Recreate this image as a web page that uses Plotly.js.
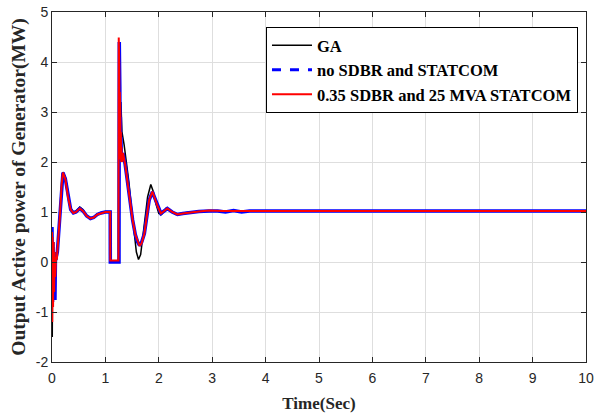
<!DOCTYPE html>
<html>
<head>
<meta charset="utf-8">
<script src="https://cdn.plot.ly/plotly-3.0.1.min.js"></script>
<style>html,body{margin:0;padding:0;background:#fff;}#chart{width:595px;height:418px;}</style>
</head>
<body>
<div id="chart"></div>
<script>
// Series names
const seriesNames = ["GA", "no SDBR and STATCOM", "0.35 SDBR and 25 MVA STATCOM"];

// GA (black)
const tGA = [0, 0.005, 0.012, 0.02, 0.03, 0.04, 0.05, 0.06, 0.075, 0.09,
  0.12, 0.15, 0.18, 0.205, 0.25, 0.30, 0.35, 0.40, 0.45, 0.52,
  0.58, 0.65, 0.72, 0.78, 0.85, 0.92, 1.0, 1.09, 1.092, 1.245,
  1.25, 1.26, 1.27, 1.28, 1.29, 1.31, 1.35, 1.39, 1.44, 1.48,
  1.54, 1.58, 1.62, 1.66, 1.70, 1.75, 1.79, 1.85, 1.90, 1.95,
  2.0, 2.05, 2.14, 2.22, 2.32, 2.45, 2.6, 2.8, 3.0, 3.3,
  3.7, 4.5, 6, 8, 10];
const pGA = [0.3, -1.5, 0.4, -0.8, 0.3, -0.5, 0.15, -0.2, 0.05, 0.05,
  0.45, 0.9, 1.5, 1.8, 1.7, 1.35, 1.08, 1.0, 1.02, 1.1,
  1.05, 0.93, 0.88, 0.9, 0.96, 0.99, 1.01, 1.01, 0.02, 0.02,
  4.3, 3.0, 3.8, 2.8, 3.2, 2.6, 2.35, 2.04, 1.6, 1.17,
  0.51, 0.2, 0.05, 0.15, 0.5, 1.0, 1.3, 1.55, 1.4, 1.15,
  0.97, 0.95, 1.08, 1.03, 0.95, 0.98, 1.0, 1.01, 1.02, 1.02,
  1.02, 1.02, 1.02, 1.02, 1.02];

// no SDBR and STATCOM (blue)
const tNo = [0, 0.004, 0.01, 0.018, 0.028, 0.038, 0.048, 0.055, 0.065, 0.08,
  0.1, 0.12, 0.15, 0.18, 0.205, 0.25, 0.30, 0.35, 0.40, 0.45,
  0.52, 0.58, 0.65, 0.72, 0.78, 0.85, 0.92, 1.0, 1.09, 1.092,
  1.255, 1.26, 1.265, 1.27, 1.275, 1.28, 1.285, 1.29, 1.30, 1.31,
  1.33, 1.37, 1.42, 1.47, 1.51, 1.56, 1.60, 1.64, 1.68, 1.73,
  1.78, 1.82, 1.88, 1.93, 1.98, 2.04, 2.10, 2.16, 2.25, 2.35,
  2.45, 2.56, 2.75, 2.94, 3.1, 3.25, 3.4, 3.55, 3.7, 4.5,
  6, 8, 10];
const pNo = [0.7, 0.25, -0.8, 0.4, -0.6, 0.2, -0.4, -0.76, 0.1, 0.1,
  0.2, 0.5, 0.95, 1.55, 1.79, 1.66, 1.3, 1.05, 0.98, 1.0,
  1.07, 1.02, 0.92, 0.87, 0.89, 0.95, 0.98, 1.0, 1.0, 0.0,
  0.0, 4.4, 2.5, 3.5, 2.2, 2.9, 2.1, 2.5, 2.05, 2.1,
  2.18, 1.95, 1.51, 1.15, 0.84, 0.55, 0.41, 0.33, 0.4, 0.57,
  0.95, 1.24, 1.40, 1.25, 1.11, 0.97, 1.02, 1.07, 1.0, 0.95,
  0.97, 0.99, 1.01, 1.02, 1.02, 1.0, 1.03, 1.0, 1.02, 1.02,
  1.02, 1.02, 1.02];

// 0.35 SDBR and 25 MVA STATCOM (red)
const tRed = [0, 0.005, 0.012, 0.02, 0.03, 0.04, 0.05, 0.06, 0.075, 0.09,
  0.12, 0.15, 0.18, 0.205, 0.25, 0.30, 0.35, 0.40, 0.45, 0.52,
  0.58, 0.65, 0.72, 0.78, 0.85, 0.92, 1.0, 1.09, 1.092, 1.245,
  1.25, 1.255, 1.26, 1.265, 1.27, 1.275, 1.28, 1.285, 1.29, 1.295,
  1.30, 1.31, 1.33, 1.37, 1.42, 1.47, 1.51, 1.56, 1.60, 1.64,
  1.68, 1.73, 1.78, 1.82, 1.88, 1.93, 1.98, 2.04, 2.10, 2.16,
  2.25, 2.35, 2.45, 2.56, 2.75, 2.94, 3.2, 3.6, 4.5, 6,
  8, 10];
const pRed = [0.6, -1.2, 0.5, -0.9, 0.4, -0.6, 0.2, -0.3, 0.1, 0.05,
  0.45, 0.95, 1.55, 1.79, 1.66, 1.3, 1.05, 0.98, 1.0, 1.07,
  1.02, 0.92, 0.87, 0.89, 0.95, 0.98, 1.0, 1.0, 0.03, 0.03,
  4.49, 2.2, 3.9, 2.1, 3.4, 2.2, 2.9, 2.05, 2.6, 2.0,
  2.3, 2.0, 2.18, 1.95, 1.51, 1.15, 0.84, 0.55, 0.41, 0.32,
  0.38, 0.57, 0.95, 1.24, 1.41, 1.25, 1.11, 0.97, 1.02, 1.07,
  1.0, 0.95, 0.97, 0.99, 1.01, 1.03, 1.02, 1.02, 1.02, 1.02,
  1.02, 1.02];

const xTicks = [0,1,2,3,4,5,6,7,8,9,10];
const yTicks = [-2,-1,0,1,2,3,4,5];

const traces = [
  {x: tGA, y: pGA, name: seriesNames[0], mode: 'lines',
   line: {color: '#000000', width: 1.5}},
  // blue data (dense, looks solid as in the reference); legend entry drawn dashed
  {x: tNo, y: pNo, name: seriesNames[1], mode: 'lines', showlegend: false,
   line: {color: '#0000ff', width: 3.5}},
  {x: [null], y: [null], name: seriesNames[1], mode: 'lines',
   line: {color: '#0000ff', width: 3, dash: 'dash'}},
  {x: tRed, y: pRed, name: seriesNames[2], mode: 'lines',
   line: {color: '#ff0000', width: 2}}
];

const tickFont = {family: 'Liberation Sans, Arial, sans-serif', size: 14, color: '#262626'};

const layout = {
  width: 595, height: 418,
  margin: {l: 52, r: 9, t: 12, b: 56},
  paper_bgcolor: '#ffffff', plot_bgcolor: '#ffffff',
  showlegend: true,
  legend: {
    x: 0.985, xanchor: 'right', y: 0.957, yanchor: 'top',
    bgcolor: '#ffffff', bordercolor: '#000000', borderwidth: 1,
    font: {family: 'Liberation Serif, Times New Roman, serif', size: 16.5, color: '#000000', weight: 'bold'},
    itemwidth: 40,
    tracegroupgap: 0
  },
  xaxis: {
    range: [0, 10], tickvals: xTicks, ticktext: xTicks.map(String),
    ticks: 'inside', ticklen: 5, tickcolor: '#262626',
    ticklabeloverflow: 'allow', ticklabelstandoff: 3,
    showgrid: true, gridcolor: '#dedede', gridwidth: 1,
    showline: true, linecolor: '#262626', linewidth: 1, mirror: 'ticks',
    zeroline: false, tickfont: tickFont,
    title: {text: 'Time(Sec)', font: {family: 'Liberation Serif, Times New Roman, serif', size: 17, color: '#262626', weight: 'bold'}, standoff: 12}
  },
  yaxis: {
    range: [-2, 5], tickvals: yTicks, ticktext: yTicks.map(String),
    ticks: 'inside', ticklen: 5, tickcolor: '#262626',
    showgrid: true, gridcolor: '#dedede', gridwidth: 1,
    showline: true, linecolor: '#262626', linewidth: 1, mirror: 'ticks',
    zeroline: false, tickfont: tickFont,
    title: {text: 'Output Active power of Generator(MW)', font: {family: 'Liberation Serif, Times New Roman, serif', size: 19.5, color: '#262626', weight: 'bold'}, standoff: 4}
  }
};

Plotly.newPlot('chart', traces, layout, {displayModeBar: false, staticPlot: true});
</script>
</body>
</html>
